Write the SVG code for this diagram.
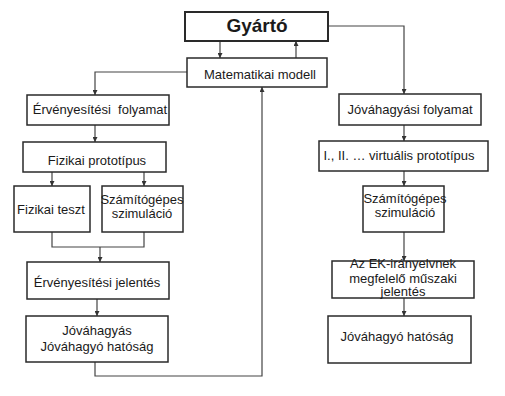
<svg xmlns="http://www.w3.org/2000/svg" width="505" height="396" viewBox="0 0 505 396">
<defs>
<marker id="ah" viewBox="0 0 8 8" refX="8" refY="4" markerWidth="5" markerHeight="5" orient="auto" markerUnits="userSpaceOnUse">
<path d="M0,0 L8,4 L0,8 Z" fill="#333"/>
</marker>
<style>
rect{fill:#fff;stroke:#2a2a2a;stroke-width:1.5}
text{font-family:"Liberation Sans",Arial,sans-serif;font-size:13px;fill:#1a1a1a;text-anchor:middle}
.c{fill:none;stroke:#444;stroke-width:1.2}
.a{marker-end:url(#ah)}
</style>
</defs>
<rect width="505" height="396" style="fill:#fff;stroke:none"/>
<g id="connectors">
<path class="c a" d="M220,41 V58"/>
<path class="c a" d="M296,58 V41"/>
<path class="c a" d="M328,26 H404 V94"/>
<path class="c a" d="M187,72 H95 V95"/>
<path class="c a" d="M95,125 V142"/>
<path class="c a" d="M52,172 V186"/>
<path class="c a" d="M144,172 V186"/>
<path class="c" d="M52,232 V247 H144 V232"/>
<path class="c a" d="M100,247 V262"/>
<path class="c a" d="M97,299 V316"/>
<path class="c a" d="M95,362 V376 H262 V87"/>
<path class="c a" d="M404,125 V141"/>
<path class="c a" d="M404,171 V186"/>
<path class="c a" d="M404,232 V261"/>
<path class="c a" d="M404,298 V316"/>
</g>
<g id="gyarto">
<rect x="185" y="12" width="143" height="29" style="stroke-width:2"/>
<text x="257" y="32" style="font-size:19px;font-weight:bold">Gyártó</text>
</g>
<g id="matematikai">
<rect x="187" y="58" width="140" height="29"/>
<text x="260" y="79">Matematikai modell</text>
</g>
<g id="ervenyesitesi-folyamat">
<rect x="27" y="95" width="142" height="30"/>
<text x="100" y="114" xml:space="preserve">Érvényesítési  folyamat</text>
</g>
<g id="fizikai-prototipus">
<rect x="23" y="142" width="143" height="30"/>
<text x="97" y="165">Fizikai prototípus</text>
</g>
<g id="fizikai-teszt">
<rect x="14" y="186" width="76" height="46"/>
<text x="51" y="214">Fizikai teszt</text>
</g>
<g id="szamitogepes-bal">
<rect x="102" y="186" width="81" height="46"/>
<text x="142" y="204">Számítógépes</text>
<text x="142" y="218">szimuláció</text>
</g>
<g id="ervenyesitesi-jelentes">
<rect x="27" y="262" width="142" height="37"/>
<text x="97" y="287">Érvényesítési jelentés</text>
</g>
<g id="jovahagyas">
<rect x="26" y="316" width="142" height="46"/>
<text x="97" y="335">Jóváhagyás</text>
<text x="97" y="351">Jóváhagyó hatóság</text>
</g>
<g id="jovahagyasi-folyamat">
<rect x="339" y="94" width="142" height="31"/>
<text x="410" y="114">Jóváhagyási folyamat</text>
</g>
<g id="virtualis-prototipus">
<rect x="319" y="141" width="169" height="30"/>
<text x="399" y="160">I., II. … virtuális prototípus</text>
</g>
<g id="szamitogepes-jobb">
<rect x="363" y="186" width="81" height="46"/>
<text x="405" y="203">Számítógépes</text>
<text x="405" y="217">szimuláció</text>
</g>
<g id="ek-jelentes">
<rect x="332" y="261" width="142" height="37"/>
<text x="403" y="268">Az EK-irányelvnek</text>
<text x="403" y="283">megfelelő műszaki</text>
<text x="403" y="296">jelentés</text>
</g>
<g id="jovahagyo-hatosag">
<rect x="328" y="316" width="143" height="47"/>
<text x="397" y="341">Jóváhagyó hatóság</text>
</g>
</svg>
